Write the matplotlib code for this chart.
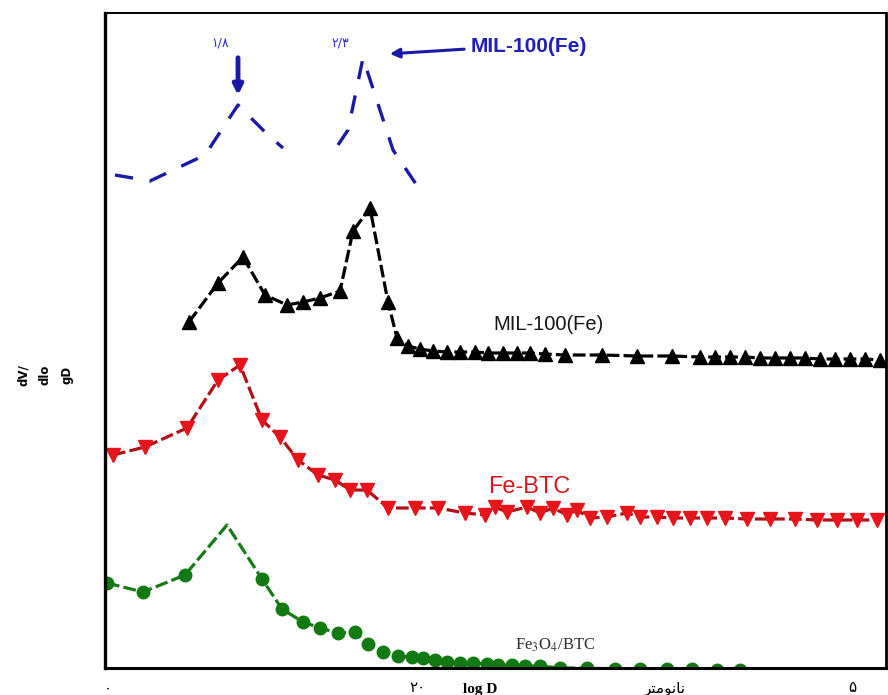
import matplotlib.pyplot as plt
import numpy as np

# Pore size distribution curves (arbitrary units)
# x: position along log D axis, y: stacked dV/dlogD (offset curves)
mil_top_x = [10, 45, 100, 133, 163, 178, np.nan, 233, 243, 258, 288, 315]
mil_top_y = [493, 487, 513, 563, 533, 520, np.nan, 523, 538, 610, 518, 478]

mil_x = [84, 113, 138, 160, 182, 198, 215, 235, 248, 265, 283, 292, 303, 315,
         328, 342, 355, 370, 383, 398, 412, 425, 440, 460, 497, 532, 567, 595,
         610, 625, 640, 655, 670, 685, 700, 715, 730, 745, 760, 775]
mil_y = [346, 385, 411, 373, 363, 366, 370, 377, 437, 460, 366, 330, 322, 319,
         317, 316, 316, 316, 315, 315, 315, 315, 314, 313, 313, 312, 312, 311,
         311, 311, 311, 310, 310, 310, 310, 309, 309, 309, 309, 308]

febtc_x = [8, 40, 82, 113, 135, 157, 175, 193, 213, 230, 245, 262, 283, 310,
           333, 360, 380, 390, 402, 422, 435, 448, 462, 472, 485, 502, 522,
           535, 552, 568, 585, 602, 620, 642, 665, 690, 712, 732, 752, 772]
febtc_y = [213, 221, 240, 288, 303, 248, 231, 208, 193, 188, 178, 178, 160, 160,
           160, 155, 153, 161, 156, 161, 155, 160, 153, 158, 150, 151, 155,
           151, 151, 150, 150, 150, 150, 149, 149, 149, 148, 148, 148, 148]

fe3o4_x = [2, 38, 80, 122, 157, 177, 198, 215, 233, 250, 263, 278, 293, 307,
           318, 330, 342, 355, 368, 382, 393, 407, 420, 435, 455, 482, 510,
           535, 562, 587, 612, 635]
fe3o4_y = [85, 76, 93, 143, 89, 59, 46, 40, 35, 36, 24, 16, 12, 11,
           10, 8, 6, 5, 5, 4, 3, 3, 2, 2, 0, 0, -1,
           -1, -1, -1, -2, -2]

tick_pos = [3, 313, 747]
tick_labels = ['۰', '۲۰', '۵']
# "nanometer" in visual order with Arabic presentation forms
unit_text = '\uFEAE\uFE98\uFEE3\uFEEE\uFEE7\uFE8E\uFEE7'

plt.rcParams['mathtext.fontset'] = 'stix'

fig = plt.figure(figsize=(8.88, 6.95), dpi=100)
ax = fig.add_axes([105 / 888, 27 / 695, 781 / 888, 655 / 695])

ax.plot(mil_top_x, mil_top_y, color='#1a1aa6', lw=2.4, dashes=(5.5, 5))

ax.plot(mil_x, mil_y, color='black', lw=2.3, dashes=(4, 1.3),
        marker='^', ms=10.5, mec='black', mfc='black')
ax.plot(febtc_x, febtc_y, color='#b01018', lw=2.3, dashes=(4, 1.3),
        marker='v', ms=10, mec='#e8141c', mfc='#e8141c')
ax.plot(fe3o4_x, fe3o4_y, color='#167a16', lw=2.3, dashes=(4, 1.3),
        marker='o', ms=9, mec='#127a12', mfc='#127a12',
        markevery=[i for i in range(len(fe3o4_x)) if i != 3])

sans = 'Liberation Sans'
ax.text(366, 621, 'MIL-100(Fe)', color='#2020b8', fontsize=15, family=sans,
        fontweight='bold', va='center', ha='left')
ax.annotate('', xy=(282, 614), xytext=(362, 619),
            arrowprops=dict(arrowstyle='-|>', color='#1a1aa6', lw=2.2,
                            mutation_scale=14))
ax.annotate('', xy=(133, 570), xytext=(133, 613),
            arrowprops=dict(arrowstyle='-|>', color='#1a1aa6', lw=3.5,
                            mutation_scale=14))
ax.text(115, 625, '۱/۸', color='#3030c0', fontsize=9, ha='center', va='center',
        family='DejaVu Sans')
ax.text(235, 625, '۲/۳', color='#3030c0', fontsize=9, ha='center', va='center',
        family='DejaVu Sans')

ax.text(388, 343, 'MIL-100(Fe)', color='#151515', fontsize=14.5, family=sans,
        va='center', ha='left')
ax.text(383, 181, 'Fe-BTC', color='#d81820', fontsize=17, family=sans,
        va='center', ha='left')
ax.text(450, 23, r'Fe$_3$O$_4$/BTC', color='#303030', fontsize=12,
        family='Liberation Serif', va='center', ha='center')

ax.set_xlim(0, 781)
ax.set_ylim(0, 655)
ax.set_xticks(tick_pos)
ax.set_xticklabels(tick_labels, fontsize=11, family='DejaVu Sans')
ax.tick_params(axis='x', length=0, pad=9)
ax.set_yticks([])
ax.text(375, -21, 'log D', fontsize=11, fontweight='bold',
        family='Liberation Serif', ha='center', va='center', clip_on=False)
ax.text(560, -21, unit_text, fontsize=11, family='DejaVu Sans',
        ha='center', va='center', clip_on=False)

ax.spines['left'].set_linewidth(2.4)
ax.spines['bottom'].set_linewidth(2.2)
ax.spines['top'].set_linewidth(1.4)
ax.spines['right'].set_linewidth(2.0)

fig.text(45 / 888, 1 - 375 / 695, 'dV/\ndlo\ngD', rotation=90, fontsize=8.5,
         fontweight='bold', ha='center', va='center', linespacing=1.9)

fig.savefig('out.png', dpi=100)
